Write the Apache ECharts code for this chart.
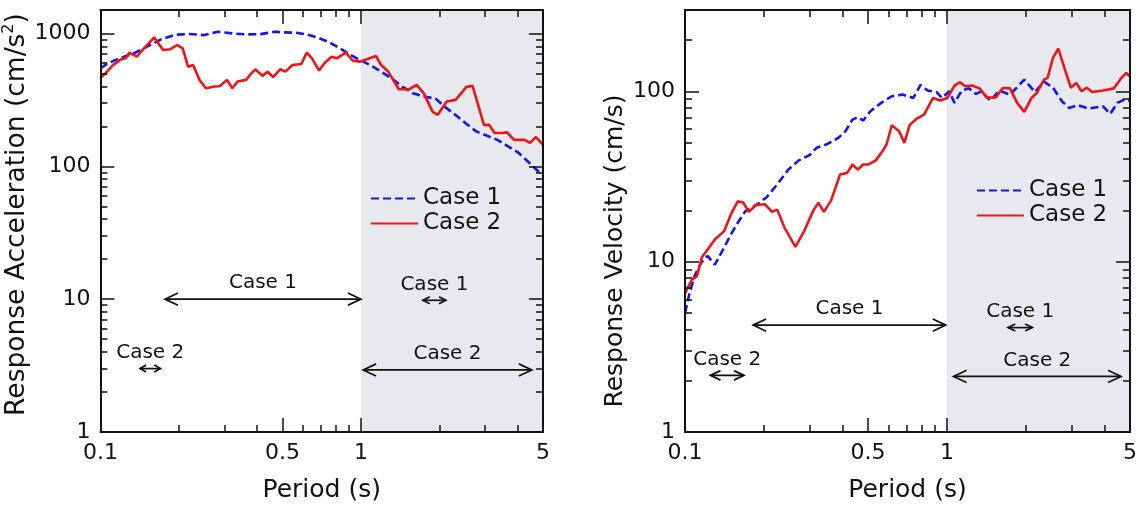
<!DOCTYPE html>
<html>
<head>
<meta charset="utf-8">
<title>Response spectra</title>
<script src="https://cdn.jsdelivr.net/npm/echarts@6.0.0/dist/echarts.min.js"></script>
<style>
  html, body { margin: 0; padding: 0; background: #fff; }
  #chart { width: 1142px; height: 508px; }
</style>
</head>
<body>
<div id="chart"></div>
<script>
// ---- data ----
// acceleration panel (cm/s^2)
const accPeriod1 = [0.1, 0.107, 0.118, 0.133, 0.151, 0.171, 0.194, 0.220, 0.250, 0.283, 0.321, 0.363, 0.412, 0.467, 0.513, 0.563, 0.619, 0.680, 0.747, 0.820, 0.900, 0.989, 1.087, 1.194, 1.311, 1.440, 1.582, 1.737, 1.935, 2.090, 2.296, 2.522, 2.770, 3.043, 3.343, 3.672, 4.034, 4.431, 4.867, 5.0];
const accCase1 = [546, 596, 649, 700, 794, 902, 977, 989, 971, 1029, 1000, 983, 987, 1029, 1017, 1011, 983, 933, 866, 785, 700, 631, 578, 516, 460, 398, 355, 335, 323, 282, 245, 211, 183, 170, 158, 141, 126, 106, 89, 87];
const accPeriod2 = [0.1, 0.106, 0.112, 0.120, 0.125, 0.129, 0.138, 0.147, 0.161, 0.174, 0.185, 0.197, 0.207, 0.217, 0.227, 0.240, 0.254, 0.274, 0.287, 0.306, 0.321, 0.336, 0.363, 0.375, 0.393, 0.419, 0.439, 0.460, 0.490, 0.513, 0.546, 0.591, 0.619, 0.649, 0.691, 0.724, 0.771, 0.808, 0.874, 0.931, 0.991, 1.055, 1.141, 1.195, 1.273, 1.398, 1.536, 1.636, 1.741, 1.883, 1.973, 2.135, 2.308, 2.457, 2.536, 2.683, 2.966, 3.109, 3.258, 3.469, 3.636, 3.871, 4.057, 4.252, 4.456, 4.700, 5.0];
const accCase2 = [460, 516, 579, 638, 649, 716, 668, 772, 933, 750, 759, 818, 772, 562, 579, 447, 387, 398, 400, 447, 387, 434, 447, 487, 537, 479, 516, 468, 537, 516, 579, 589, 716, 649, 525, 596, 668, 649, 716, 624, 613, 638, 676, 579, 516, 380, 380, 410, 355, 258, 244, 307, 316, 365, 394, 403, 205, 205, 178, 178, 180, 158, 158, 158, 150, 166, 145];

// velocity panel (cm/s)
const velPeriod1 = [0.1, 0.104, 0.109, 0.115, 0.122, 0.130, 0.141, 0.150, 0.159, 0.170, 0.187, 0.205, 0.225, 0.248, 0.272, 0.299, 0.318, 0.350, 0.385, 0.410, 0.436, 0.457, 0.479, 0.510, 0.561, 0.616, 0.677, 0.744, 0.793, 0.844, 0.913, 0.957, 1.020, 1.069, 1.139, 1.213, 1.291, 1.354, 1.464, 1.584, 1.741, 1.974, 2.170, 2.348, 2.540, 2.748, 2.927, 3.165, 3.479, 3.946, 4.202, 4.474, 4.766, 5.0];
const velCase1 = [5.0, 6.5, 8.3, 9.8, 10.8, 9.6, 12.1, 14.5, 16.9, 19.8, 21.5, 23.9, 28.4, 34.7, 39.3, 42.2, 46.6, 49.1, 53.3, 58.3, 68.2, 70.5, 67.3, 76.4, 85.5, 93.5, 95.6, 91.4, 109, 101, 99, 91.4, 100, 85.5, 101, 104, 96.5, 100, 88.2, 101, 95.6, 117, 99, 114, 105, 87.4, 79.8, 82.8, 79.1, 81.6, 73.6, 85.5, 89.4, 88];
const velPeriod2 = [0.1, 0.106, 0.111, 0.116, 0.122, 0.130, 0.141, 0.150, 0.159, 0.167, 0.175, 0.187, 0.202, 0.215, 0.225, 0.240, 0.264, 0.285, 0.308, 0.323, 0.339, 0.361, 0.391, 0.416, 0.436, 0.457, 0.479, 0.502, 0.535, 0.570, 0.588, 0.616, 0.657, 0.688, 0.721, 0.768, 0.818, 0.885, 0.943, 1.004, 1.069, 1.121, 1.175, 1.251, 1.333, 1.419, 1.535, 1.635, 1.741, 1.854, 1.974, 2.103, 2.204, 2.348, 2.424, 2.540, 2.663, 2.836, 2.972, 3.116, 3.266, 3.423, 3.591, 3.946, 4.337, 4.618, 4.841, 5.0];
const velCase2 = [6.5, 7.8, 8.2, 10.6, 11.8, 13.5, 15.1, 19.1, 22.6, 22.2, 19.6, 21.5, 21.7, 19.6, 20.2, 15.8, 12.2, 15.1, 19.8, 22.2, 19.6, 22.8, 32.5, 33.2, 37.2, 34.7, 37.2, 37.2, 39.3, 44.9, 48.7, 63.2, 58.3, 49.8, 63.5, 69.2, 73, 91.4, 88.2, 91.4, 108, 113, 107, 108, 104, 92, 92, 104.6, 104, 85.5, 75.7, 91.4, 97.8, 117, 120, 157, 178, 131, 105, 112, 100, 105, 99, 101, 104, 119, 128, 122];

// shaded long-period band
const bandFrom = 1;
const bandTo = 5;

// range arrows: [from, to] period, level, label
const accArrowFrom = [0.177, 1.73, 0.142, 1.02];
const accArrowTo = [1.0, 2.12, 0.170, 4.53];
const accArrowLevel = [10, 9.8, 3.0, 2.93];
const accArrowLabels = ['Case 1', 'Case 1', 'Case 2', 'Case 2'];
const velArrowFrom = [0.182, 1.71, 0.125, 1.06];
const velArrowTo = [0.99, 2.12, 0.168, 4.62];
const velArrowLevel = [4.24, 4.1, 2.15, 2.12];
const velArrowLabels = ['Case 1', 'Case 1', 'Case 2', 'Case 2'];

// ticks
const periodLabels = [0.1, 0.5, 1, 5];
const periodMinor = [0.2, 0.3, 0.4, 0.6, 0.7, 0.8, 0.9, 2, 3, 4];
const accLabels = [1, 10, 100, 1000];
const accMinor = [2, 3, 4, 5, 6, 7, 8, 9, 20, 30, 40, 50, 60, 70, 80, 90, 200, 300, 400, 500, 600, 700, 800, 900];
const velLabels = [1, 10, 100];
const velMinor = [2, 3, 4, 5, 6, 7, 8, 9, 20, 30, 40, 50, 60, 70, 80, 90, 200];

const seriesNames = ['Case 1', 'Case 2'];

// ---- chart ----
const FONT = '"DejaVu Sans", Verdana, sans-serif';
const INK = '#111';
const BLUE = '#1414f0';
const RED = '#f01414';

const myChart = echarts.init(document.getElementById('chart'), null, { renderer: 'canvas' });

function zip(xs, ys) {
  return xs.map((x, i) => [x, ys[i]]);
}

function logAxis(gridIndex, position, min, max, tickValues, tickLen, extra) {
  return Object.assign({
    type: 'log',
    logBase: 10,
    gridIndex: gridIndex,
    position: position,
    min: min,
    max: max,
    z: 5,
    axisLine: { show: true, onZero: false, lineStyle: { color: INK, width: 2 } },
    axisTick: { show: true, inside: true, length: tickLen, customValues: tickValues, lineStyle: { color: INK, width: 1.5 } },
    axisLabel: { show: false },
    splitLine: { show: false },
    minorTick: { show: false },
    minorSplitLine: { show: false }
  }, extra || {});
}

function tickLabel(values) {
  return {
    show: true,
    customValues: values,
    fontSize: 22,
    fontFamily: FONT,
    color: INK,
    margin: 10,
    formatter: v => String(+Number(v).toPrecision(6))
  };
}

function xAxesFor(grid) {
  return [
    logAxis(grid, 'bottom', 0.1, 5, periodLabels, 14, {
      axisLabel: tickLabel(periodLabels),
      name: 'Period (s)',
      nameLocation: 'middle',
      nameGap: 46,
      nameTextStyle: { fontSize: 25, fontFamily: FONT, color: INK }
    }),
    logAxis(grid, 'bottom', 0.1, 5, periodMinor, 7, { axisLine: { show: false } }),
    logAxis(grid, 'top', 0.1, 5, periodLabels, 14),
    logAxis(grid, 'top', 0.1, 5, periodMinor, 7, { axisLine: { show: false } })
  ];
}

function yAxesFor(grid, max, labels, minor, name, nameSize, nameGap, namePadding) {
  return [
    logAxis(grid, 'left', 1, max, labels, 14, {
      axisLabel: tickLabel(labels),
      name: name,
      nameLocation: 'middle',
      nameGap: nameGap,
      nameTextStyle: {
        fontSize: nameSize,
        fontFamily: FONT,
        color: INK,
        padding: namePadding,
        rich: { sup: { fontSize: 16, fontFamily: FONT, color: INK, verticalAlign: 'top', lineHeight: 32 } }
      }
    }),
    logAxis(grid, 'left', 1, max, minor, 7, { axisLine: { show: false } }),
    logAxis(grid, 'right', 1, max, labels, 14),
    logAxis(grid, 'right', 1, max, minor, 7, { axisLine: { show: false } })
  ];
}

function arrowRenderer(labels) {
  return function (params, api) {
    const a = api.coord([api.value(0), api.value(2)]);
    const b = api.coord([api.value(1), api.value(2)]);
    const y = a[1];
    const len = b[0] - a[0];
    const h = Math.min(13, len * 0.3);
    const w = Math.max(3.5, h * 0.47);
    const s = { stroke: INK, lineWidth: 1.7, fill: null };
    return {
      type: 'group',
      children: [
        { type: 'line', shape: { x1: a[0], y1: y, x2: b[0], y2: y }, style: s },
        { type: 'polyline', shape: { points: [[a[0] + h, y - w], [a[0], y], [a[0] + h, y + w]] }, style: s },
        { type: 'polyline', shape: { points: [[b[0] - h, y - w], [b[0], y], [b[0] - h, y + w]] }, style: s },
        {
          type: 'text',
          style: {
            x: (a[0] + b[0]) / 2, y: y - 16,
            text: labels[params.dataIndex],
            align: 'center', verticalAlign: 'middle',
            fontSize: 20, fontFamily: FONT, fill: INK
          }
        }
      ]
    };
  };
}

function lineSeries(name, xIdx, yIdx, data, color, dashed) {
  return {
    name: name,
    type: 'line',
    xAxisIndex: xIdx,
    yAxisIndex: yIdx,
    data: data,
    symbol: 'none',
    smooth: false,
    z: 3,
    lineStyle: { color: color, width: 2.6, type: dashed ? [8, 4] : 'solid' },
    itemStyle: { color: color }
  };
}

function bandArea() {
  return {
    silent: true,
    itemStyle: { color: '#e7e9ee' },
    data: [[{ xAxis: bandFrom }, { xAxis: bandTo }]]
  };
}

const legendBase = {
  data: seriesNames,
  orient: 'vertical',
  padding: 0,
  itemGap: 0,
  itemWidth: 47,
  itemHeight: 14,
  selectedMode: false,
  // line-only key: hide the marker the line legend puts in the middle
  itemStyle: { opacity: 0 },
  textStyle: { fontSize: 23, lineHeight: 25, fontFamily: FONT, color: INK }
};

const option = {
  animation: false,
  backgroundColor: '#fff',
  grid: [
    { left: 96, top: 10, width: 447, height: 423 },
    { left: 685, top: 10, width: 445, height: 422 }
  ],
  legend: [
    Object.assign({}, legendBase, { left: 370, top: 186 }),
    Object.assign({}, legendBase, { left: 976, top: 178 })
  ],
  xAxis: xAxesFor(0).concat(xAxesFor(1)),
  yAxis: yAxesFor(0, 1500, accLabels, accMinor, 'Response Acceleration (cm/s{sup|2})', 26.5, 50, [0, 0, 0, 13])
    .concat(yAxesFor(1, 300, velLabels, velMinor, 'Response Velocity (cm/s)', 25, 57, [0, 60, 0, 0])),
  series: [
    Object.assign(lineSeries('Case 1', 0, 0, zip(accPeriod1, accCase1), BLUE, true), { markArea: bandArea() }),
    lineSeries('Case 2', 0, 0, zip(accPeriod2, accCase2), RED, false),
    Object.assign(lineSeries('Case 1', 4, 4, zip(velPeriod1, velCase1), BLUE, true), { markArea: bandArea() }),
    lineSeries('Case 2', 4, 4, zip(velPeriod2, velCase2), RED, false),
    {
      type: 'custom',
      xAxisIndex: 0,
      yAxisIndex: 0,
      z: 4,
      silent: true,
      renderItem: arrowRenderer(accArrowLabels),
      encode: { x: [0, 1], y: 2 },
      data: accArrowFrom.map((f, i) => [f, accArrowTo[i], accArrowLevel[i]])
    },
    {
      type: 'custom',
      xAxisIndex: 4,
      yAxisIndex: 4,
      z: 4,
      silent: true,
      renderItem: arrowRenderer(velArrowLabels),
      encode: { x: [0, 1], y: 2 },
      data: velArrowFrom.map((f, i) => [f, velArrowTo[i], velArrowLevel[i]])
    }
  ]
};

option && myChart.setOption(option);
</script>
</body>
</html>
